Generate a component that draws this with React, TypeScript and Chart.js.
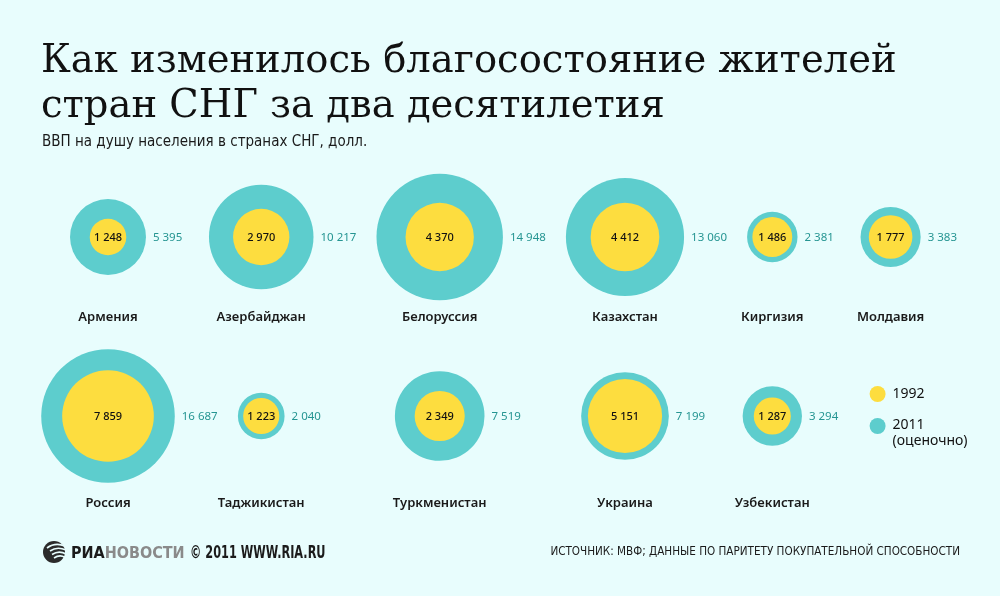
import { useEffect, useRef } from "react";
import { Chart, registerables } from "chart.js";

Chart.register(...registerables);

// ВВП на душу населения, долл. (ППС)
const countries = [
  "Армения",
  "Азербайджан",
  "Белоруссия",
  "Казахстан",
  "Киргизия",
  "Молдавия",
  "Россия",
  "Таджикистан",
  "Туркменистан",
  "Украина",
  "Узбекистан",
];
const gdp1992 = [1248, 2970, 4370, 4412, 1486, 1777, 7859, 1223, 2349, 5151, 1287];
const gdp2011 = [5395, 10217, 14948, 13060, 2381, 3383, 16687, 2040, 7519, 7199, 3294];
const rowSizes = [6, 5];
const legendLabels = ["1992", "2011", "(оценочно)"];

const TITLE = ["Как изменилось благосостояние жителей", "стран СНГ за два десятилетия"];
const SUBTITLE = "ВВП на душу населения в странах СНГ, долл.";
const SOURCE = "Источник: МВФ; данные по паритету покупательной способности";

// layout
const W = 1000;
const H = 596;
const BG = "#e8fdfd";
const YELLOW = "#fddd3f";
const TEAL = "#5dcdcd";
const TEAL_TEXT = "#259592";
const K = 0.517; // radius px per sqrt(dollar), circle area ~ value
const ROW_Y = [237, 416];
const NAME_DY = [80, 87];
const FIRST_X = 108;
const GAP = 63; // space between neighbouring circles for the value label

const radius = (v: number) => K * Math.sqrt(v);
const fmt = (v: number) => String(v).replace(/\B(?=(\d{3})+(?!\d))/g, " ");

// place columns so that neighbouring circles in any row don't collide
function cells() {
  const rowOf: number[] = [];
  const colOf: number[] = [];
  rowSizes.forEach((n, r) => {
    for (let c = 0; c < n; c++) {
      rowOf.push(r);
      colOf.push(c);
    }
  });
  const nCols = Math.max(...rowSizes);
  const colX = [FIRST_X];
  for (let c = 1; c < nCols; c++) {
    let need = 0;
    countries.forEach((_, i) => {
      if (colOf[i] !== c - 1) return;
      const j = colOf.findIndex((cc, k) => cc === c && rowOf[k] === rowOf[i]);
      if (j >= 0) need = Math.max(need, radius(gdp2011[i]) + radius(gdp2011[j]));
    });
    colX.push(colX[c - 1] + need + GAP);
  }
  return { rowOf, colOf, colX };
}

const labelsPlugin = {
  id: "bubbleLabels",
  afterDatasetsDraw(chart: any) {
    const ctx = chart.ctx as CanvasRenderingContext2D;
    const inner = chart.getDatasetMeta(0).data;
    const { rowOf, colX } = cells();
    ctx.save();
    ctx.textBaseline = "middle";
    countries.forEach((name, i) => {
      const p = inner[i];
      const rOut = radius(gdp2011[i]);
      ctx.fillStyle = "#111";
      ctx.font = "500 11px 'Noto Sans'";
      ctx.textAlign = "center";
      ctx.fillText(fmt(gdp1992[i]), p.x, p.y + 1);
      ctx.fillStyle = TEAL_TEXT;
      ctx.font = "400 11.5px 'Noto Sans'";
      ctx.textAlign = "left";
      ctx.fillText(fmt(gdp2011[i]), p.x + rOut + 7, p.y + 1);
      ctx.fillStyle = "#1a1a1a";
      ctx.font = "600 13px 'Noto Sans'";
      ctx.textAlign = "center";
      ctx.fillText(name, p.x, p.y + NAME_DY[rowOf[i]]);
    });
    // legend in the free cell of the second row
    const lx = colX[colX.length - 1] - 13;
    const ly = ROW_Y[1] - 22;
    ctx.fillStyle = YELLOW;
    ctx.beginPath();
    ctx.arc(lx, ly, 8, 0, Math.PI * 2);
    ctx.fill();
    ctx.fillStyle = TEAL;
    ctx.beginPath();
    ctx.arc(lx, ly + 32, 8, 0, Math.PI * 2);
    ctx.fill();
    ctx.fillStyle = "#111";
    ctx.font = "400 14px 'Noto Sans'";
    ctx.textAlign = "left";
    ctx.fillText(legendLabels[0], lx + 15, ly);
    ctx.fillText(legendLabels[1], lx + 15, ly + 31);
    ctx.fillText(legendLabels[2], lx + 15, ly + 47);
    ctx.restore();
  },
};

function BubbleChart() {
  const ref = useRef<HTMLCanvasElement>(null);
  useEffect(() => {
    const { rowOf, colOf, colX } = cells();
    const pts = (vals: number[]) =>
      vals.map((v, i) => ({ x: colX[colOf[i]], y: ROW_Y[rowOf[i]], r: radius(v) }));
    // the bubble controller insets the chart area by the largest radius;
    // shift the scale ends by the same amount so 1 unit = 1 px on the page
    const m = Math.max(...gdp2011.map(radius), ...gdp1992.map(radius));
    const chart = new Chart(ref.current!, {
      type: "bubble",
      data: {
        datasets: [
          { label: "1992", data: pts(gdp1992), backgroundColor: YELLOW, borderWidth: 0, order: 0, clip: false },
          {
            label: "2011 (оценочно)",
            data: pts(gdp2011),
            backgroundColor: TEAL,
            borderWidth: 0,
            order: 1,
            clip: false,
          },
        ],
      },
      options: {
        animation: false,
        responsive: false,
        events: [],
        layout: { padding: 0 },
        plugins: { legend: { display: false }, tooltip: { enabled: false } },
        scales: {
          x: { type: "linear", min: m, max: W - m, display: false },
          y: { type: "linear", min: m, max: H - m, reverse: true, display: false },
        },
      },
      plugins: [labelsPlugin],
    });
    return () => {
      chart.destroy();
    };
  }, []);
  return <canvas ref={ref} width={W} height={H} style={{ position: "absolute", left: 0, top: 0 }} />;
}

function Logo() {
  return (
    <div
      style={{
        position: "absolute",
        left: 41,
        top: 540,
        display: "flex",
        alignItems: "center",
        fontFamily: "'Liberation Sans Narrow', 'DejaVu Sans Condensed', sans-serif",
        fontWeight: 700,
        fontSize: 16,
        color: "#1b1b1b",
        whiteSpace: "nowrap",
      }}
    >
      <svg width="28" height="24" viewBox="0 0 28 24" style={{ marginRight: 2 }}>
        <circle cx="13" cy="12" r="11" fill="#2b2b2b" />
        <path d="M6 8 Q14 2 24 6" stroke="#e8fdfd" strokeWidth="1.6" fill="none" />
        <path d="M9 11 Q16 6 25 10" stroke="#e8fdfd" strokeWidth="1.6" fill="none" />
        <path d="M11 14.5 Q18 10 25 14" stroke="#e8fdfd" strokeWidth="1.6" fill="none" />
        <path d="M13 18 Q19 14 24 17.5" stroke="#e8fdfd" strokeWidth="1.6" fill="none" />
      </svg>
      <span>РИА</span>
      <span style={{ color: "#8a8a8a" }}>НОВОСТИ</span>
      <span
        style={{
          marginLeft: 5,
          display: "inline-block",
          transform: "scaleX(0.74)",
          transformOrigin: "left center",
          fontSize: 17,
        }}
      >
        © 2011 WWW.RIA.RU
      </span>
    </div>
  );
}

export default function App() {
  return (
    <div
      style={{
        position: "fixed",
        left: 0,
        top: 0,
        width: W,
        height: H,
        background: BG,
        overflow: "hidden",
      }}
    >
      <BubbleChart />
      <div
        style={{
          position: "absolute",
          left: 41,
          top: 36,
          fontFamily: "'DejaVu Serif', serif",
          fontSize: 38.5,
          lineHeight: "45px",
          color: "#111",
          whiteSpace: "nowrap",
        }}
      >
        {TITLE.map((t) => (
          <div key={t}>{t}</div>
        ))}
      </div>
      <div
        style={{
          position: "absolute",
          left: 42,
          top: 134,
          fontFamily: "'Liberation Sans Narrow', 'DejaVu Sans Condensed', sans-serif",
          fontSize: 15,
          lineHeight: "15px",
          color: "#1a1a1a",
          whiteSpace: "nowrap",
        }}
      >
        {SUBTITLE}
      </div>
      <Logo />
      <div
        style={{
          position: "absolute",
          right: 40,
          top: 544,
          fontFamily: "'Liberation Sans Narrow', 'DejaVu Sans Condensed', sans-serif",
          fontSize: 11.6,
          lineHeight: "14px",
          textTransform: "uppercase",
          color: "#1a1a1a",
          whiteSpace: "nowrap",
        }}
      >
        {SOURCE}
      </div>
    </div>
  );
}
